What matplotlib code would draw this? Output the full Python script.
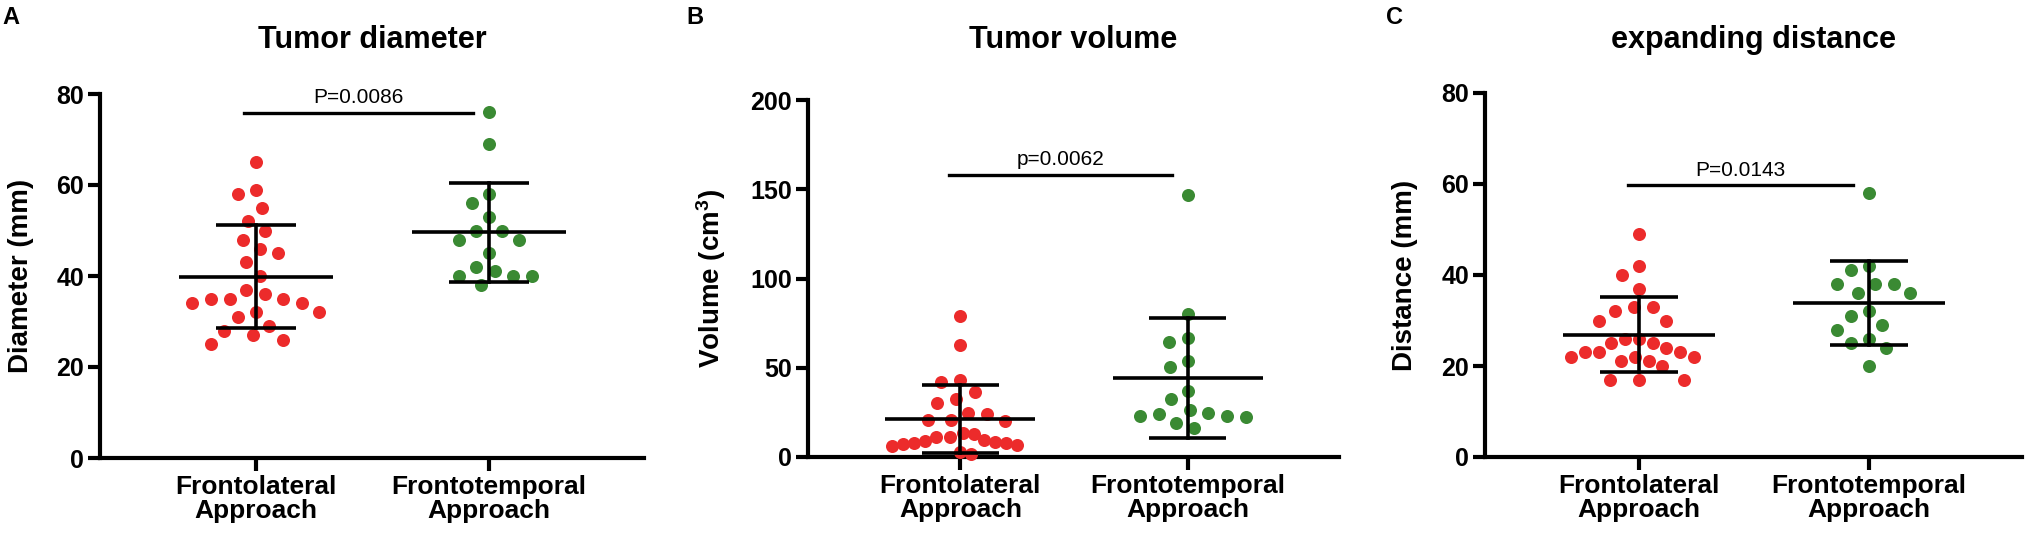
import numpy as np
import matplotlib
matplotlib.use('Agg')
import matplotlib.pyplot as plt

plt.rcParams['font.family'] = ['Liberation Sans', 'DejaVu Sans']
plt.rcParams['mathtext.fontset'] = 'custom'
plt.rcParams['mathtext.rm'] = 'Liberation Sans:bold'
plt.rcParams['mathtext.bf'] = 'Liberation Sans:bold'
plt.rcParams['mathtext.default'] = 'bf'

GROUPS = ['Frontolateral\nApproach', 'Frontotemporal\nApproach']

DIAMETER_FL = [65, 59, 58, 55, 52, 50, 48, 46, 45, 43, 40, 37, 36, 35, 35, 35,
               34, 34, 32, 32, 31, 29, 28, 27, 26, 25]
DIAMETER_FT = [76, 69, 58, 56, 53, 50, 50, 48, 48, 45, 42, 41, 40, 40, 40, 38]

VOLUME_FL = [79, 63, 43, 42, 36.5, 32.7, 30.1, 24.9, 23.9, 20.8, 20.8, 20.2,
             13.3, 12.7, 11.4, 11.4, 9.6, 9.0, 8.4, 8.0, 8.0, 7.1, 6.5, 6.2,
             2.8, 1.5]
VOLUME_FT = [147, 80, 66.7, 64.3, 53.7, 50.3, 37.2, 32.5, 26.6, 24.7, 24.1,
             23.2, 23.2, 22.3, 19.1, 16.3]

DISTANCE_FL = [49, 42, 40, 37, 33, 33, 32, 30, 30, 26, 26, 25, 25, 24, 23, 23,
               23, 22, 22, 22, 21, 21, 20, 17, 17, 17]
DISTANCE_FT = [58, 42, 41, 38, 38, 38, 36, 36, 32, 31, 29, 28, 26, 25, 24, 20]

P_TEXTS = ['P=0.0086', 'p=0.0062', 'P=0.0143']
P_BAR_Y = [75.8, 157.8, 59.7]
P_TEXT_Y = [79.3, 166.8, 63.0]

TITLES = ['Tumor diameter', 'Tumor volume', 'expanding distance']
YLABELS = ['Diameter (mm)', r'Volume (cm$^3$)', 'Distance (mm)']
YTICKS = [[0, 20, 40, 60, 80], [0, 50, 100, 150, 200], [0, 20, 40, 60, 80]]
LETTERS = ['A', 'B', 'C']

RED = '#EC2B2B'
GREEN = '#3A8A33'

W, H = 2027, 533
# axes boxes in pixels: left, right, bottom(from top), top(from top)
BOXES = [(100, 644, 458, 94), (808, 1339, 457, 100), (1485, 2022, 457, 93)]
LETTER_X = [2, 686, 1386]
YLABEL_X = [34, 728, 1418]
XLIM = (0.33, 2.665)


def _swarm(ypx: np.ndarray, gap: float, limit: float) -> np.ndarray:
    # greedy beeswarm in pixel space, then squeeze rows wider than limit
    offs = np.zeros(len(ypx))
    placed: list[tuple[float, float]] = []
    for i in np.argsort(-ypx):
        cands = [0.0]
        for yj, xj in placed:
            dy = ypx[i] - yj
            if abs(dy) < gap:
                dx = np.sqrt(gap ** 2 - dy ** 2)
                cands += [xj + dx, xj - dx]
        cands.sort(key=lambda c: (round(abs(c), 6), c))
        for c in cands:
            if all((c - xj) ** 2 + (ypx[i] - yj) ** 2 >= gap ** 2 - 1e-6 for yj, xj in placed):
                offs[i] = c
                break
        placed.append((ypx[i], offs[i]))

    out = offs.copy()
    for i in range(len(ypx)):
        near = np.abs(ypx - ypx[i]) < gap
        m = np.abs(offs[near]).max()
        if m > limit:
            out[i] = offs[i] * limit / m
    return out


def _panel(fig, k: int, groups: list[list[float]]) -> None:
    left, right, bot, top = BOXES[k]
    ax = fig.add_axes([left / W, 1 - bot / H, (right - left) / W, (bot - top) / H])
    ymax = YTICKS[k][-1]
    ax.set_xlim(*XLIM)
    ax.set_ylim(0, ymax)

    px_per_y = (bot - top) / ymax
    px_per_x = (right - left) / (XLIM[1] - XLIM[0])

    for gi, (vals, color) in enumerate(zip(groups, [RED, GREEN])):
        v = np.asarray(vals, dtype=float)
        xs = gi + 1 + _swarm(v * px_per_y, 19.0, 68.0) / px_per_x
        ax.scatter(xs, v, s=88, color=color, linewidths=0, zorder=3, clip_on=False)

        mean = v.mean()
        sd = v.std(ddof=1)
        x0 = gi + 1
        ax.plot([x0 - 0.33, x0 + 0.33], [mean, mean], color='black', lw=2.6, zorder=4,
                solid_capstyle='butt')
        for yy in (mean - sd, mean + sd):
            ax.plot([x0 - 0.17, x0 + 0.17], [yy, yy], color='black', lw=2.6, zorder=4,
                    solid_capstyle='butt')
        ax.plot([x0, x0], [mean - sd, mean + sd], color='black', lw=2.6, zorder=4)

    # significance bar
    ax.plot([0.95, 1.93], [P_BAR_Y[k], P_BAR_Y[k]], color='black', lw=2.4, clip_on=False)
    ax.text(1.44, P_TEXT_Y[k], P_TEXTS[k], ha='center', va='center', fontsize=15)

    for side in ['top', 'right']:
        ax.spines[side].set_visible(False)
    for side in ['left', 'bottom']:
        ax.spines[side].set_linewidth(3)
    ax.set_xticks([1, 2])
    ax.set_xticklabels(GROUPS, fontsize=19, fontweight='bold', linespacing=1.0)
    ax.set_yticks(YTICKS[k])
    ax.set_yticklabels([str(t) for t in YTICKS[k]], fontsize=18, fontweight='bold')
    ax.tick_params(axis='x', length=9.5, width=3, pad=3)
    ax.tick_params(axis='y', length=8.5, width=3, pad=3)

    ax.set_ylabel(YLABELS[k], fontsize=20, fontweight='bold')
    ax.yaxis.set_label_coords((YLABEL_X[k] - left) / (right - left), 0.5)

    fig.text((left + right) / 2 / W, 1 - 40 / H, TITLES[k], ha='center', va='center',
             fontsize=22, fontweight='bold')
    fig.text(LETTER_X[k] / W, 1 - 17 / H, LETTERS[k], ha='left', va='center',
             fontsize=17, fontweight='bold')


def main() -> None:
    fig = plt.figure(figsize=(W / 100, H / 100), dpi=100)
    _panel(fig, 0, [DIAMETER_FL, DIAMETER_FT])
    _panel(fig, 1, [VOLUME_FL, VOLUME_FT])
    _panel(fig, 2, [DISTANCE_FL, DISTANCE_FT])
    fig.savefig('out.png', dpi=100)


if __name__ == '__main__':
    main()
